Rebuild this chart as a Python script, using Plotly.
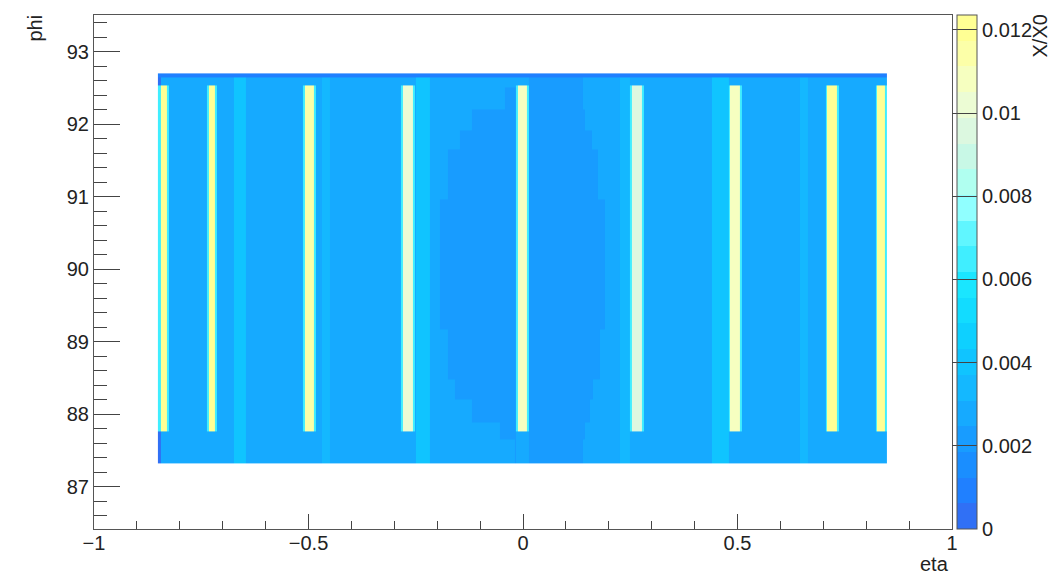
import numpy as np
import plotly.graph_objects as go

# ---------------- data ----------------
ETA_MIN, ETA_MAX = -0.851, 0.848
PHI_MIN, PHI_MAX = 87.32, 92.70
top_row_phi = 92.65            # top row of bins (lower material)
strip_phi_lo, strip_phi_hi = 87.76, 92.54

base_val = 0.0028
oval_val = 0.0022
top_val = 0.0009
dark_edge_val = 0.0003
strip_edge_val = 0.0062
strip_outside_val = 0.0030

strip_lo = [-0.8445, -0.7325, -0.5085, -0.2800, -0.0117, 0.2540, 0.4830, 0.7090, 0.8257]
strip_hi = [-0.8305, -0.7185, -0.4875, -0.2566, 0.0093, 0.2776, 0.5060, 0.7325, 0.8444]
strip_val = [0.0122, 0.0120, 0.0114, 0.0099, 0.0106, 0.0097, 0.0108, 0.0118, 0.0122]
strip_edge_w = 0.004

band_lo = [-0.673, -0.468, -0.250, 0.225, 0.440, 0.645]
band_hi = [-0.645, -0.451, -0.218, 0.253, 0.479, 0.665]
band_val = [0.0040, 0.0036, 0.0040, 0.0037, 0.0042, 0.0033]

oval_phi_hi = [92.65, 92.51, 92.20, 91.92, 91.65, 90.96, 89.17, 88.48, 88.20, 87.89, 87.65]
oval_phi_lo = [92.51, 92.20, 91.92, 91.65, 90.96, 89.17, 88.48, 88.20, 87.89, 87.65, 87.32]
oval_eta_lo = [0.0117, -0.042, -0.119, -0.147, -0.175, -0.194, -0.175, -0.159, -0.119, -0.054, -0.019]
oval_eta_hi = [0.140, 0.140, 0.1446, 0.161, 0.175, 0.191, 0.180, 0.163, 0.156, 0.1446, 0.140]

Z_MAX = 0.01236
cb_tickvals = [0, 0.002, 0.004, 0.006, 0.008, 0.01, 0.012]
cb_ticktext = ["0", "0.002", "0.004", "0.006", "0.008", "0.01", "0.012"]

level_colors = [
    "#3070f5", "#2080ff", "#1a8eff", "#189cff", "#16aaff",
    "#14b8ff", "#10c4ff", "#0ed0ff", "#12dcff", "#1ae6ff",
    "#40eeff", "#60f6ff", "#90ffff", "#b0fff0", "#c8f8e6",
    "#dcf8e0", "#ecfcd4", "#f6ffc0", "#fcffa8", "#ffff94",
]

# ---------------- build the histogram table ----------------
xe = {ETA_MIN, ETA_MAX}
for lo, hi in zip(strip_lo, strip_hi):
    xe.update([lo, hi, lo - strip_edge_w, hi + strip_edge_w])
xe.update(band_lo + band_hi + oval_eta_lo + oval_eta_hi)
x_edges = sorted(v for v in xe if ETA_MIN <= v <= ETA_MAX)

ye = {PHI_MIN, PHI_MAX, top_row_phi, strip_phi_lo, strip_phi_hi}
ye.update(oval_phi_lo + oval_phi_hi)
y_edges = sorted(v for v in ye if PHI_MIN <= v <= PHI_MAX)


def cell(eta, phi):
    in_strip_range = strip_phi_lo <= phi <= strip_phi_hi
    if phi > top_row_phi:
        return top_val
    if eta < strip_lo[0]:
        return strip_edge_val if in_strip_range else dark_edge_val
    for lo, hi, v in zip(strip_lo, strip_hi, strip_val):
        if lo <= eta < hi:
            return v if in_strip_range else strip_outside_val
    for lo, hi in zip(strip_lo, strip_hi):
        if lo - strip_edge_w <= eta < lo or hi <= eta < hi + strip_edge_w:
            return strip_edge_val if in_strip_range else strip_outside_val
    for lo, hi, v in zip(band_lo, band_hi, band_val):
        if lo <= eta < hi:
            return v
    for plo, phi_, elo, ehi in zip(oval_phi_lo, oval_phi_hi, oval_eta_lo, oval_eta_hi):
        if plo <= phi < phi_ and elo <= eta < ehi:
            return oval_val
    return base_val


xc = [(a + b) / 2 for a, b in zip(x_edges[:-1], x_edges[1:])]
yc = [(a + b) / 2 for a, b in zip(y_edges[:-1], y_edges[1:])]
z = [[cell(ex, py) for ex in xc] for py in yc]

n = len(level_colors)
colorscale = []
for i, c in enumerate(level_colors):
    colorscale.append([i / n, c])
    colorscale.append([(i + 1) / n, c])

# ---------------- figure (plot area placed by axis domains) ----------------
W, H = 1061, 577
PX0, PX1, PY0, PY1 = 94, 952, 15, 529      # plot frame in pixels (left, right, top, bottom)
FONT = "Liberation Sans, Arial, sans-serif"
TXT = "#222222"
LINE = "#555555"
TICK = "#444444"


def fx(px):
    return px / W


def fy(py):
    return (H - py) / H


fig = go.Figure(go.Heatmap(
    x=x_edges, y=y_edges, z=z,
    zmin=0, zmax=Z_MAX, zsmooth=False,
    colorscale=colorscale,
    colorbar=dict(
        x=fx(957), xanchor="left", xref="paper", xpad=0,
        y=fy((PY0 + PY1) / 2), yanchor="middle", yref="paper",
        len=(PY1 - PY0) / H, lenmode="fraction", ypad=0,
        thickness=20, thicknessmode="pixels",
        outlinewidth=1, outlinecolor=LINE,
        ticks="inside", ticklen=25, tickcolor=TICK, tickwidth=1,
        tickvals=cb_tickvals, ticktext=cb_ticktext,
        tickfont=dict(family=FONT, size=20, color=TXT),
    ),
    hoverinfo="skip",
))

fig.update_xaxes(
    domain=[fx(PX0), fx(PX1)],
    range=[-1, 1], tickmode="linear", tick0=0, dtick=0.5,
    ticks="inside", ticklen=15, tickcolor=TICK, tickwidth=1,
    minor=dict(dtick=0.1, tick0=0, ticks="inside", ticklen=8, tickcolor=TICK),
    showline=True, linecolor=LINE, linewidth=1, mirror=True,
    showgrid=False, zeroline=False, automargin=False,
    ticklabelstandoff=-4,
    tickfont=dict(family=FONT, size=20, color=TXT),
)
fig.update_yaxes(
    domain=[fy(PY1), fy(PY0)],
    range=[86.42, 93.505], tickmode="linear", tick0=0, dtick=1,
    ticks="inside", ticklen=26, tickcolor=TICK, tickwidth=1,
    minor=dict(dtick=0.2, tick0=0, ticks="inside", ticklen=13, tickcolor=TICK),
    showline=True, linecolor=LINE, linewidth=1, mirror=True,
    showgrid=False, zeroline=False, automargin=False,
    tickfont=dict(family=FONT, size=20, color=TXT),
)

fig.update_layout(
    width=W, height=H, autosize=False,
    margin=dict(l=0, r=0, t=0, b=0, pad=0),
    paper_bgcolor="white", plot_bgcolor="white",
    font=dict(family=FONT, size=20, color=TXT),
    showlegend=False,
    annotations=[
        dict(text="phi", xref="paper", yref="paper",
             x=fx(34), y=fy(13), xanchor="center", yanchor="top",
             textangle=-90, showarrow=False, font=dict(family=FONT, size=20, color=TXT)),
        dict(text="eta", xref="paper", yref="paper",
             x=fx(951), y=0, xanchor="right", yanchor="bottom",
             showarrow=False, font=dict(family=FONT, size=20, color=TXT)),
        dict(text="X/X0", xref="paper", yref="paper",
             x=fx(1039), y=fy(13), xanchor="center", yanchor="top",
             textangle=-90, showarrow=False, font=dict(family=FONT, size=20, color=TXT)),
    ],
)

fig.write_html("out.html",
               config={"displayModeBar": False, "staticPlot": True},
               post_script="document.body.style.margin='0px';document.body.style.overflow='hidden';")
